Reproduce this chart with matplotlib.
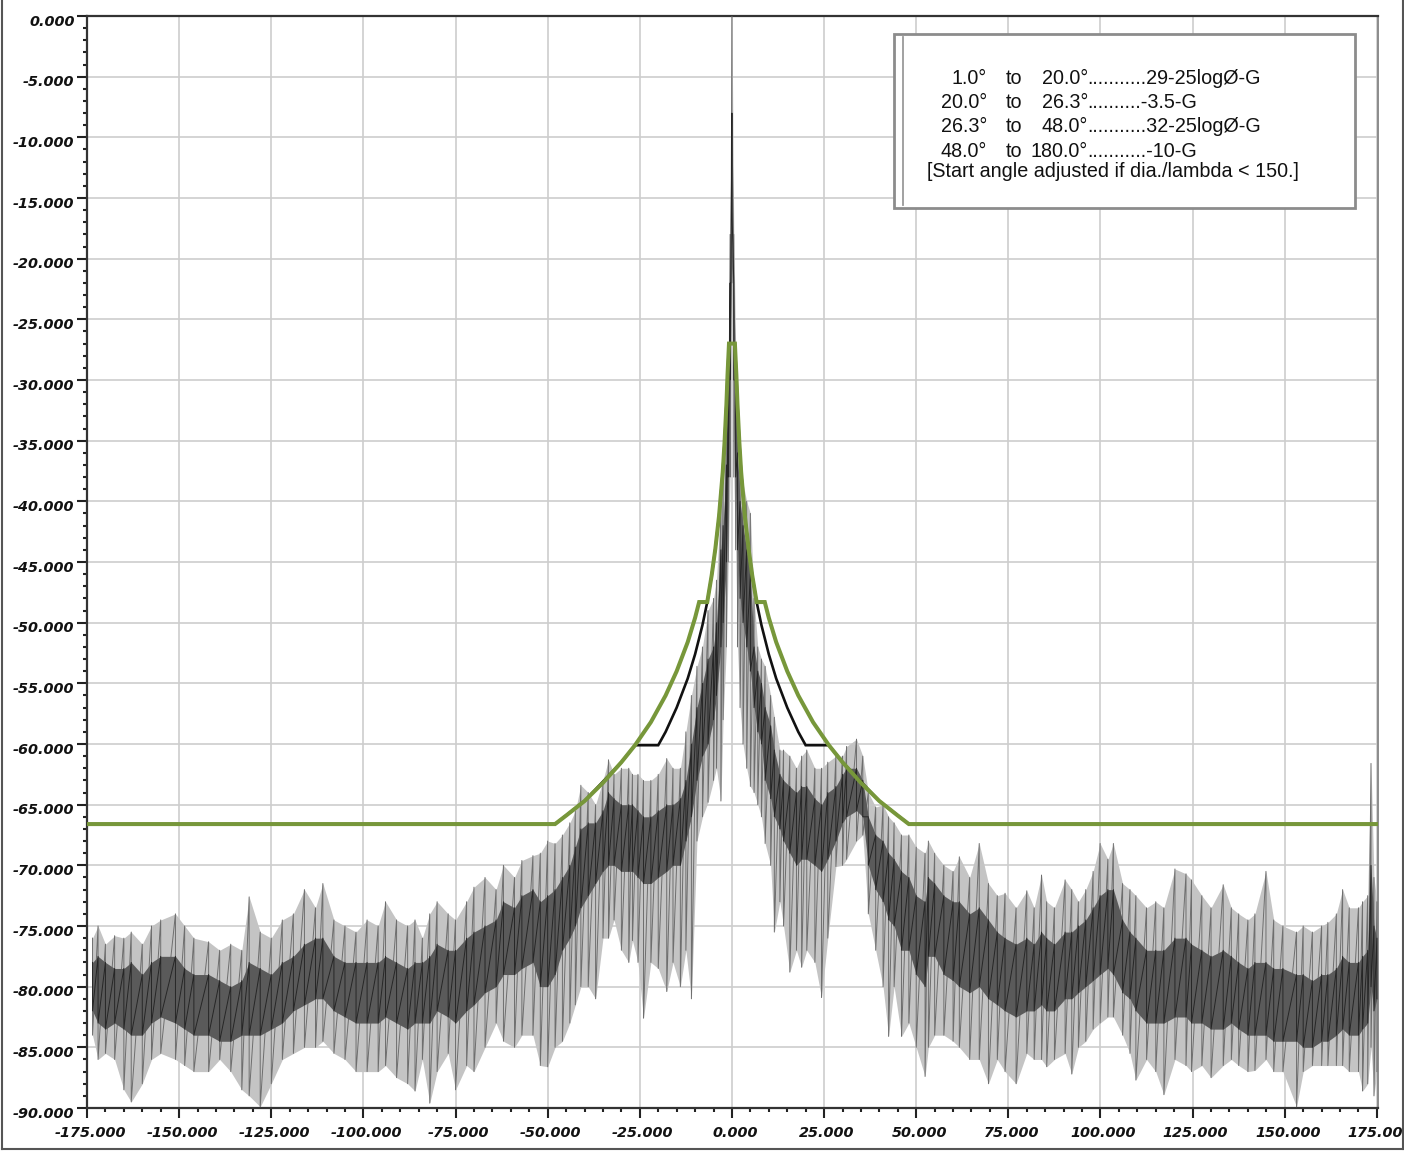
import matplotlib
matplotlib.use("Agg")
import matplotlib.pyplot as plt
from matplotlib.patches import Rectangle
from matplotlib.lines import Line2D
from matplotlib.ticker import MultipleLocator, FormatStrFormatter
import matplotlib.transforms as mtransforms
import numpy as np

# ---------------- data ----------------
trace_theta = [-173.5, -172, -170, -167.5, -165, -163, -160, -157.5, -155, -151, -148.5, -146, -142, -139,
               -136, -133, -131, -128, -125, -122, -119, -116, -113, -111, -108, -105, -102, -99, -96, -94,
               -91, -88, -86, -84, -82, -80, -77, -75, -72, -70, -67, -64, -62, -59, -57, -54, -52, -50,
               -48, -46, -44, -42.5, -41, -39, -37, -35, -33.5, -32, -30, -28, -27, -25.5, -24, -22, -20,
               -17.7, -16, -14, -12.5, -11, -9.5, -8, -6.5, -5, -4.2, -3, -2.4, -1.5, -1, -0.5, 0, 0.5, 1,
               1.5, 2.2, 3, 4, 5, 6, 7, 8, 9, 10.5, 11.5, 13, 14, 15.7, 17.5, 18.9, 20.3, 22.5, 24.3, 26,
               28.2, 30, 31.1, 33.8, 35.5, 37, 39, 41, 42.5, 44, 46, 48, 50, 52.4, 53.3, 55, 57.5, 60, 61.7,
               64.5, 67.1, 69.6, 72, 74.1, 77.1, 80, 82, 84, 85.4, 87.5, 90.4, 92.2, 94, 96, 98, 99.9, 102,
               103.5, 106, 108, 109.6, 112.5, 115, 117.2, 120.2, 123.2, 124.7, 127.5, 130, 133.3, 135.5,
               137.5, 140, 141.9, 144.9, 147, 149.5, 153.2, 155, 157.5, 160, 161.7, 164, 165.7, 167.5, 170,
               171.1, 172.5, 173.4, 174.2, 175]
trace_top = [-76, -75, -76.5, -75.8, -76, -75.5, -76.5, -75, -74.5, -74, -75, -76, -76.3, -77,
             -76.5, -77, -72.6, -75.5, -76, -74.5, -74, -72, -73.5, -71.5, -74.5, -75, -75.5, -74.5, -75, -73,
             -74.5, -75, -74.5, -76, -74, -73, -74, -74.5, -73, -71.8, -71, -72, -70, -71, -69.6, -69.2, -69, -68,
             -68.2, -67.5, -66.5, -65.5, -63.4, -64, -65, -63, -61.3, -62.5, -62, -62, -62.5, -62.5, -63, -63, -62.5,
             -61.2, -62, -62, -59, -56, -53.6, -52, -49, -48, -46.5, -40, -38, -33, -27, -18, 0, -18, -27,
             -32, -36, -38.5, -40, -41, -48, -52, -53, -53.6, -56, -57.8, -60.5, -60.5, -61, -62, -61, -60.5, -62, -62, -61.5,
             -61, -61, -60.2, -59.6, -61, -64, -65.2, -65, -66, -66.5, -67.5, -67.5, -68.5, -69, -68, -69, -70, -70.5, -69.3,
             -71, -68.2, -71.5, -72.5, -72.3, -73.5, -72.1, -73.5, -70.8, -73, -73.5, -71.2, -72, -73, -72, -70.5, -68.2, -69.5,
             -68.2, -71.5, -72, -72.5, -73.5, -73, -73.5, -70.3, -70.7, -71.2, -72.5, -73.5, -71.6, -73.5,
             -74, -74.5, -74, -70.5, -74.5, -75, -75.5, -75, -75.5, -75, -74.7, -74, -72, -73.5, -73.5,
             -73, -72.5, -61.6, -71, -73]
trace_core_hi = [-78, -77.5, -78, -78.5, -78.5, -78, -79, -78, -77.5, -77.5, -78.5, -79, -79, -79.5,
                 -80, -79.5, -78, -78.5, -79, -78, -77.5, -76.5, -76, -76, -77.5, -78, -78, -78, -78, -77.5,
                 -78, -78.5, -78, -78, -77.5, -76.5, -77, -77, -76, -75.5, -75, -74.5, -73, -73.5, -72.5, -72, -73, -72.5,
                 -72, -71, -70, -68.5, -67, -66.5, -66.5, -65.5, -64, -64.5, -65, -65, -65, -65.5, -66, -66, -65.5,
                 -65, -65, -64.5, -63, -60, -57, -55, -53, -52, -50, -44, -42, -37, -30, -22, -8, -22, -30,
                 -36, -40, -42, -44, -46, -52, -54, -55, -57, -58.5, -60.5, -62.5, -63, -63.5, -64, -63.5, -63.5, -64.5, -65, -64,
                 -63.5, -62.5, -62, -62, -63, -66, -67.5, -68, -69, -69.5, -70.5, -71, -72.5, -73, -71, -71.5, -72.5, -73, -73,
                 -74, -73.5, -74.5, -75.5, -76, -76.5, -76, -76.5, -75.5, -76, -76.5, -75.5, -75.5, -75, -74.5, -73.5, -72.5, -72,
                 -72, -74.5, -75.5, -76, -77, -77, -77, -76, -76, -76.5, -77, -77.5, -77, -77.5,
                 -78, -78.5, -78, -78, -78.5, -78.5, -79, -79, -79.5, -79, -79, -78.5, -77.5, -78, -78,
                 -77.5, -77, -70, -75, -76]
trace_core_lo = [-82, -83, -83.5, -83, -83.5, -84, -84, -83, -82.5, -83, -83.5, -84, -84, -84.5,
                 -84.5, -84, -84, -84, -83.5, -83, -82, -81.5, -81, -81, -82, -82.5, -83, -83, -83, -82.5,
                 -83, -83.5, -83, -83, -83, -82, -82.5, -83, -82, -81.5, -80.5, -80, -79, -79, -78.5, -78, -80, -80,
                 -79, -77, -76, -75, -73.5, -72.5, -71.5, -70.5, -70, -70, -70.5, -70.5, -70.5, -71, -71.5, -71.5, -71,
                 -70.5, -70, -70, -68, -66, -63, -61, -60, -58, -56, -52, -50, -45, -38, -30, -16, -30, -38,
                 -44, -48, -50, -52, -54, -57, -59, -60, -63, -64.5, -66, -67, -68, -69, -70, -69.5, -69.5, -70, -70.5, -69.5,
                 -68, -66.5, -66, -65.5, -66, -70, -72, -73, -74.5, -75, -77, -77, -79, -80, -77.5, -77.5, -79, -79.5, -80,
                 -80.5, -80, -81, -81.5, -82, -82.5, -82, -82, -81.5, -82, -82, -81, -81, -80.5, -80, -79.5, -79, -78.5,
                 -79, -80.5, -81, -82, -83, -83, -83, -82.5, -82.5, -83, -83, -83.5, -83.5, -83,
                 -83.5, -84, -84, -84, -84.5, -84.5, -84.5, -85, -85, -84.5, -84.5, -84, -83.5, -84, -84,
                 -83.5, -83, -80, -82, -81]
trace_bottom = [-84, -86, -85.5, -86, -88.5, -89.5, -88, -86, -85.5, -86, -86.5, -87, -87, -86,
                -87, -88.5, -89, -89.9, -88, -86, -85.5, -85, -85, -84.5, -85.5, -86, -87, -87, -87, -86.5,
                -87.5, -88, -88.6, -86, -89.6, -87, -85.5, -88.5, -86.5, -87, -85, -83, -84.5, -85, -84, -84, -86.5, -86.6,
                -85, -84.5, -83, -81.5, -80, -80, -81, -76, -76, -74.5, -77, -78, -76.2, -78, -82.6, -78, -78.5,
                -80.4, -78, -80, -77, -81, -68, -66, -64.8, -63, -62, -64.7, -58, -52, -45, -38, -22, -38, -44,
                -52, -57, -60, -62, -63.5, -64, -65, -66, -68.2, -70, -75.5, -73, -75, -78.8, -77, -78.4, -77, -78, -80.9, -76,
                -70.1, -70, -69.5, -68, -67.5, -74, -77, -80, -84.1, -80, -84.1, -83, -85, -87.4, -85, -84, -84, -84.5, -85,
                -86, -86, -88, -86, -87, -88, -85.5, -86, -86, -86.6, -86, -85.5, -87.2, -85, -84.5, -83.5, -83, -82.5,
                -82.5, -84, -85.5, -87.7, -86, -87, -88.9, -86, -86.5, -87, -86.5, -87.5, -86.5, -86,
                -86.5, -87, -86.9, -86, -87, -87, -89.9, -87, -86.5, -86.5, -86.5, -86.5, -86.5, -87, -87,
                -88.6, -88, -85, -89, -87]

# Angular masks (green = applied mask, black = nominal mask)
green_theta = [-175, -48, -45, -40, -35, -30, -26.3, -22, -18, -15, -12, -10, -8.9, -6.7, -5.5, -4.5, -3.5,
               -2.5, -2, -1.5, -1.2, -0.8, 0.8, 1.2, 1.5, 2, 2.5, 3.5, 4.5, 5.5, 6.7, 8.9, 10, 12, 15, 18,
               22, 26.3, 30, 35, 40, 45, 48, 175.3]
green_level = [-66.6, -66.6, -65.9, -64.7, -63.2, -61.5, -60.1, -58.2, -56.0, -54.0, -51.6, -49.6, -48.3, -48.3,
               -46.1, -43.9, -41.2, -37.6, -35.1, -32.0, -29.6, -27.0, -27.0, -29.6, -32.0, -35.1, -37.6, -41.2,
               -43.9, -46.1, -48.3, -48.3, -49.6, -51.6, -54.0, -56.0, -58.2, -60.1, -61.5, -63.2, -64.7, -65.9,
               -66.6, -66.6]
black_theta = [-175, -48, -40, -30, -26.3, -20, -18, -15, -12, -10, -8, -6.7, -5.5, -4.5, -3.5, -2.5, -2,
               -1.5, -1.2, -0.8, 0.8, 1.2, 1.5, 2, 2.5, 3.5, 4.5, 5.5, 6.7, 8, 10, 12, 15, 18, 20, 26.3, 30,
               40, 48, 175.3]
black_level = [-66.6, -66.6, -64.7, -61.5, -60.1, -60.1, -59.0, -57.0, -54.6, -52.6, -50.2, -48.3, -46.1, -43.9,
               -41.2, -37.6, -35.1, -32.0, -29.6, -27.0, -27.0, -29.6, -32.0, -35.1, -37.6, -41.2, -43.9, -46.1,
               -48.3, -50.2, -52.6, -54.6, -57.0, -59.0, -60.1, -60.1, -61.5, -64.7, -66.6, -66.6]

legend_from = ["1.0°", "20.0°", "26.3°", "48.0°"]
legend_to = ["20.0°", "26.3°", "48.0°", "180.0°"]
legend_rule = ["...........29-25logØ-G", "..........-3.5-G", "...........32-25logØ-G", "...........-10-G"]
legend_note = "[Start angle adjusted if dia./lambda < 150.]"

x_min, x_max, y_min, y_max = -175, 175.3, -90, 0

# ---------------- figure ----------------
plt.rcParams['axes.unicode_minus'] = False
W, H = 1404, 1152
fig = plt.figure(figsize=(W / 100, H / 100), dpi=100)
fig.patch.set_facecolor('white')

def fx(px):
    return px / W

def fy(py):
    return 1 - py / H

ax = fig.add_axes([fx(87), fy(1108), (1378 - 87) / W, (1108 - 16) / H])
ax.set_xlim(x_min, x_max)
ax.set_ylim(y_min, y_max)

# trace
th = np.array(trace_theta)
top = np.array(trace_top)
bot = np.array(trace_bottom)
chi = np.array(trace_core_hi)
clo = np.array(trace_core_lo)
ax.fill_between(th, bot, top, color='#c4c4c4', lw=0, zorder=2)
zx = np.repeat(th, 2)
zy = np.empty(2 * len(th))
zy[0::2] = top
zy[1::2] = bot
ax.plot(zx, zy, color='#6e6e6e', lw=0.7, zorder=3)
ax.fill_between(th, clo, chi, color='#5a5a5a', lw=0, zorder=4)
cy = np.empty(2 * len(th))
cy[0::2] = chi
cy[1::2] = clo
ax.plot(zx, cy, color='#262626', lw=0.7, zorder=5)

# masks
ax.plot(black_theta, black_level, color='#111111', lw=1.9, zorder=6, solid_joinstyle='miter')
ax.plot(green_theta, green_level, color='#77973a', lw=2.9, zorder=7, solid_joinstyle='miter')

# axes styling
ax.xaxis.set_major_locator(MultipleLocator(25))
ax.xaxis.set_minor_locator(MultipleLocator(5))
ax.yaxis.set_major_locator(MultipleLocator(5))
ax.yaxis.set_minor_locator(MultipleLocator(1))
ax.xaxis.set_major_formatter(FormatStrFormatter('%.3f'))
ax.yaxis.set_major_formatter(FormatStrFormatter('%.3f'))
ax.grid(which='major', color='#cdcdcd', lw=1.2, zorder=0)
ax.set_axisbelow(True)
ax.tick_params(which='major', length=7.5, width=1.5, color='#222222', pad=1.5)
ax.tick_params(axis='x', which='major', pad=5.5)
ax.tick_params(which='minor', length=3, width=1.5, color='#222222')
ax.tick_params(top=False, right=False)
for lab in ax.get_xticklabels() + ax.get_yticklabels():
    lab.set_fontfamily('DejaVu Sans')
    lab.set_fontweight('bold')
    lab.set_fontstyle('italic')
    lab.set_fontsize(10.4)
    lab.set_color('#111111')
offy = mtransforms.ScaledTranslation(0, -4 / 100, fig.dpi_scale_trans)
for lab in ax.get_yticklabels():
    lab.set_transform(lab.get_transform() + offy)
offx = mtransforms.ScaledTranslation(3 / 100, 0, fig.dpi_scale_trans)
for lab in ax.get_xticklabels():
    lab.set_transform(lab.get_transform() + offx)

for s in ['left', 'bottom', 'top']:
    ax.spines[s].set_color('#333333')
    ax.spines[s].set_linewidth(1.6)
ax.spines['right'].set_color('#8c8c8c')
ax.spines['right'].set_linewidth(1.4)

# legend box
leg_font = 'Liberation Sans'
leg_size = 14.2
fig.patches.append(Rectangle((fx(894), fy(208)), (1355 - 894) / W, (208 - 34) / H,
                             transform=fig.transFigure, facecolor='white', edgecolor='#8c8c8c',
                             lw=2, zorder=10))
fig.lines.append(Line2D([fx(903), fx(903)], [fy(37), fy(205)], transform=fig.transFigure,
                        color='#9a9a9a', lw=1.3, zorder=11))
baselines = [84, 108, 132, 157]
for i in range(4):
    yb = fy(baselines[i])
    kw = dict(transform=fig.transFigure, fontfamily=leg_font, fontsize=leg_size, va='baseline',
              color='#111111', zorder=12)
    fig.text(fx(987), yb, legend_from[i], ha='right', **kw)
    fig.text(fx(1006), yb, 'to', ha='left', **kw)
    fig.text(fx(1088), yb, legend_to[i], ha='right', **kw)
    fig.text(fx(1087), yb, legend_rule[i], ha='left', **kw)
fig.text(fx(927), fy(177), legend_note, ha='left', va='baseline', transform=fig.transFigure,
         fontfamily=leg_font, fontsize=leg_size, color='#111111', zorder=12)

# outer frame
for xs, ys in [([fx(2), fx(2)], [fy(0), fy(1149)]), ([fx(2), fx(1403)], [fy(1149), fy(1149)]),
               ([fx(1403), fx(1403)], [fy(0), fy(1149)])]:
    fig.lines.append(Line2D(xs, ys, transform=fig.transFigure, color='#555555', lw=1.5, zorder=20))

fig.savefig('out.png', dpi=100)
